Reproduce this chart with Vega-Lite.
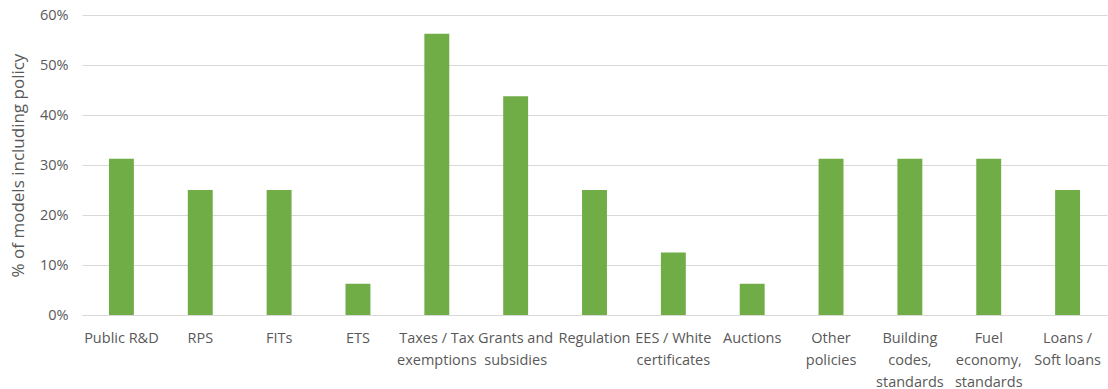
{
  "$schema": "https://vega.github.io/schema/vega-lite/v6.json",
  "autosize": "none",
  "width": 1025,
  "height": 300,
  "padding": {"left": 82, "top": 15, "right": 1, "bottom": 74},
  "background": "white",
  "data": {
    "values": [
      {"policy": "Public R&D", "share": 0.3125},
      {"policy": "RPS", "share": 0.25},
      {"policy": "FITs", "share": 0.25},
      {"policy": "ETS", "share": 0.0625},
      {"policy": "Taxes / Tax|exemptions", "share": 0.5625},
      {"policy": "Grants and|subsidies", "share": 0.4375},
      {"policy": "Regulation", "share": 0.25},
      {"policy": "EES / White|certificates", "share": 0.125},
      {"policy": "Auctions", "share": 0.0625},
      {"policy": "Other|policies", "share": 0.3125},
      {"policy": "Building|codes,|standards", "share": 0.3125},
      {"policy": "Fuel|economy,|standards", "share": 0.3125},
      {"policy": "Loans /|Soft loans", "share": 0.25}
    ]
  },
  "mark": {"type": "bar", "color": "#70AD47"},
  "encoding": {
    "x": {
      "field": "policy",
      "type": "nominal",
      "sort": null,
      "scale": {"paddingInner": 0.684, "paddingOuter": 0.342},
      "axis": {
        "title": null,
        "labelAngle": 0,
        "labelExpr": "split(datum.label, '|')",
        "labelFont": "Open Sans",
        "labelFontSize": 14.5,
        "labelColor": "#595959",
        "labelLineHeight": 22,
        "labelPadding": 16,
        "labelBaseline": "top",
        "ticks": false,
        "domain": true,
        "domainColor": "#d9d9d9",
        "labelLimit": 200
      }
    },
    "y": {
      "field": "share",
      "type": "quantitative",
      "scale": {"domain": [0, 0.6], "nice": false},
      "axis": {
        "title": "% of models including policy",
        "titleFont": "Open Sans",
        "titleFontSize": 17,
        "titleFontWeight": "normal",
        "titleColor": "#595959",
        "titlePadding": 12,
        "format": ".0%",
        "values": [0, 0.1, 0.2, 0.3, 0.4, 0.5, 0.6],
        "labelFont": "Open Sans",
        "labelFontSize": 14.5,
        "labelColor": "#595959",
        "labelPadding": 14,
        "ticks": false,
        "domain": false,
        "gridColor": "#d9d9d9",
        "gridWidth": 1
      }
    }
  },
  "config": {"view": {"stroke": null}}
}
